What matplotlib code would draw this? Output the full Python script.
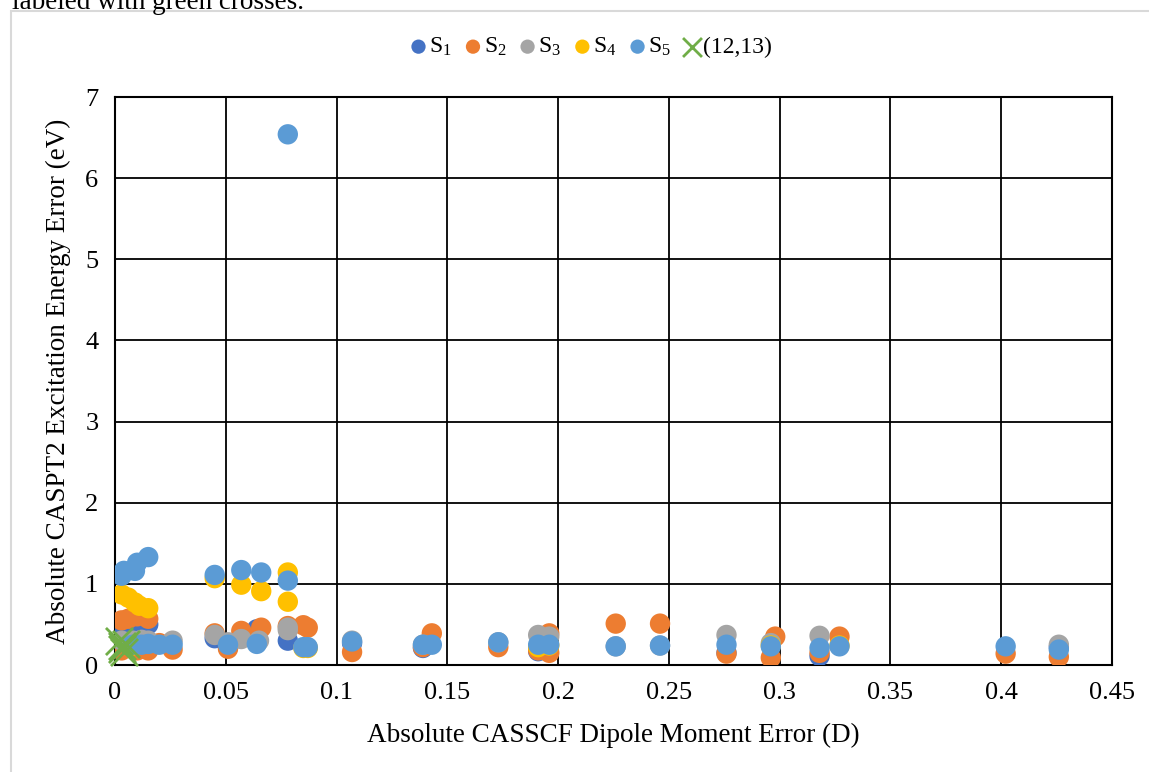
import matplotlib
matplotlib.use("Agg")
import matplotlib.pyplot as plt
from matplotlib.patches import Rectangle

plt.rcParams['font.family'] = ['Liberation Serif', 'DejaVu Serif']
plt.rcParams['mathtext.default'] = 'regular'

# (dipole moment error, excitation energy error) per excited state
s1_x = [0.003, 0.010, 0.015, 0.045, 0.051, 0.064, 0.078, 0.107, 0.139, 0.191, 0.276, 0.318, 0.426]
s1_y = [0.50, 0.52, 0.50, 0.33, 0.22, 0.44, 0.30, 0.27, 0.21, 0.17, 0.15, 0.11, 0.22]

s2_x = [0.003, 0.006, 0.010, 0.015, 0.003, 0.010, 0.015, 0.020, 0.026, 0.045, 0.051, 0.057,
        0.064, 0.066, 0.078, 0.085, 0.087, 0.107, 0.139, 0.143, 0.173, 0.191, 0.196, 0.196,
        0.226, 0.246, 0.276, 0.298, 0.296, 0.318, 0.327, 0.402, 0.426]
s2_y = [0.55, 0.57, 0.60, 0.57, 0.18, 0.18, 0.18, 0.27, 0.19, 0.39, 0.20, 0.42,
        0.35, 0.46, 0.48, 0.49, 0.46, 0.16, 0.22, 0.39, 0.22, 0.18, 0.39, 0.15,
        0.51, 0.51, 0.14, 0.35, 0.09, 0.15, 0.35, 0.14, 0.10]

s3_x = [0.003, 0.008, 0.012, 0.015, 0.026, 0.045, 0.051, 0.057, 0.065, 0.078, 0.078, 0.107,
        0.139, 0.173, 0.191, 0.196, 0.226, 0.246, 0.276, 0.296, 0.318, 0.426]
s3_y = [0.30, 0.30, 0.31, 0.30, 0.30, 0.37, 0.28, 0.32, 0.30, 0.46, 0.43, 0.30,
        0.25, 0.28, 0.37, 0.35, 0.23, 0.24, 0.37, 0.27, 0.36, 0.25]

s4_x = [0.003, 0.006, 0.009, 0.011, 0.015, 0.008, 0.045, 0.057, 0.066, 0.078, 0.078, 0.085,
        0.087, 0.191, 0.196, 0.296, 0.327]
s4_y = [0.87, 0.83, 0.77, 0.73, 0.70, 0.24, 1.07, 0.99, 0.91, 1.14, 0.78, 0.21,
        0.21, 0.22, 0.24, 0.24, 0.24]

s5_x = [0.003, 0.004, 0.009, 0.010, 0.015, 0.008, 0.012, 0.015, 0.020, 0.026, 0.045, 0.051,
        0.057, 0.064, 0.066, 0.078, 0.078, 0.085, 0.087, 0.107, 0.139, 0.143, 0.173, 0.191,
        0.196, 0.226, 0.246, 0.276, 0.296, 0.318, 0.327, 0.402, 0.426]
s5_y = [1.10, 1.16, 1.16, 1.26, 1.33, 0.25, 0.25, 0.26, 0.25, 0.25, 1.11, 0.25,
        1.17, 0.26, 1.14, 6.54, 1.04, 0.22, 0.22, 0.29, 0.25, 0.25, 0.28, 0.25,
        0.25, 0.23, 0.24, 0.25, 0.23, 0.21, 0.23, 0.23, 0.19]

# (12,13) active space points
x1213_x = [0.002, 0.003, 0.003, 0.004, 0.005]
x1213_y = [0.30, 0.24, 0.20, 0.16, 0.26]

series = [
    (s1_x, s1_y, '#4472C4', r'$S_1$'),
    (s2_x, s2_y, '#ED7D31', r'$S_2$'),
    (s3_x, s3_y, '#A5A5A5', r'$S_3$'),
    (s4_x, s4_y, '#FFC000', r'$S_4$'),
    (s5_x, s5_y, '#5B9BD5', r'$S_5$'),
]

fig = plt.figure(figsize=(11.49, 7.72), dpi=100)
W, H = 1149, 772
ax = fig.add_axes([115 / W, (H - 665) / H, (1112 - 115) / W, (665 - 97) / H])

# chart frame and the caption line above it
fig.patches.append(Rectangle((11 / W, -0.1), 1.2, (H - 11) / H + 0.1, transform=fig.transFigure,
                             fill=False, edgecolor='#D9D9D9', linewidth=1.5))
fig.text(12 / W, 1 - 9 / H, 'labeled with green crosses.', fontsize=19.5, va='baseline', ha='left')

for xs, ys, c, lab in series:
    ax.scatter(xs, ys, s=215, color=c, edgecolors='none', label=lab, zorder=3)
ax.scatter(x1213_x, x1213_y, s=380, marker='x', color='#70AD47', linewidths=2,
           label='(12,13)', zorder=4, clip_on=False)

ax.set_xlim(0, 0.45)
ax.set_ylim(0, 7)
ax.set_xticks([0, 0.05, 0.1, 0.15, 0.2, 0.25, 0.3, 0.35, 0.4, 0.45])
ax.set_xticklabels(['0', '0.05', '0.1', '0.15', '0.2', '0.25', '0.3', '0.35', '0.4', '0.45'])
ax.set_yticks(range(8))
ax.tick_params(length=0, labelsize=19, pad=12)
ax.grid(True, color='black', linewidth=1.3)
ax.set_axisbelow(True)
for sp in ax.spines.values():
    sp.set_color('black')
    sp.set_linewidth(1.5)

ax.set_xlabel('Absolute CASSCF Dipole Moment Error (D)', fontsize=19.5, labelpad=14)
ax.set_ylabel('Absolute CASPT2 Excitation Energy Error (eV)', fontsize=19.5, labelpad=10)

fig.legend(loc='center', bbox_to_anchor=(591 / W, 1 - 47 / H), ncol=6, frameon=False,
           fontsize=17, handlelength=0.7, handletextpad=0.1, columnspacing=0.55,
           markerscale=0.7)

fig.savefig('out.png', dpi=100)
